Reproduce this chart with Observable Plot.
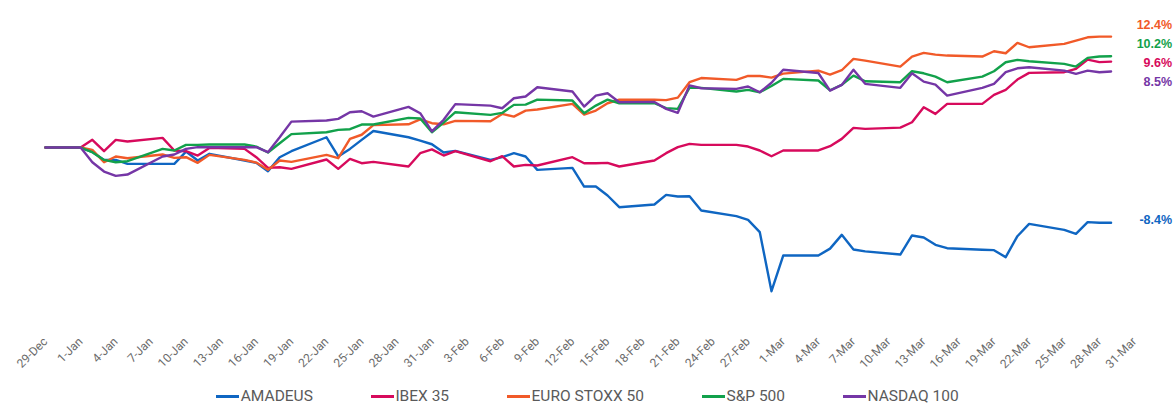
<!DOCTYPE html>
<html>
<head>
<meta charset="utf-8">
<script src="https://cdn.jsdelivr.net/npm/d3@7"></script>
<script src="https://cdn.jsdelivr.net/npm/@observablehq/plot@0.6"></script>
<style>
  html, body { margin: 0; padding: 0; background: #fff; }
  #chart svg { display: block; }
  #legend { display: flex; justify-content: center; align-items: center; gap: 58px; height: 22px;
    font-family: Roboto, "Liberation Sans", sans-serif; font-size: 15.5px; color: #5a5a5a; }
  #legend .item { display: flex; align-items: center; }
  #legend .sw { width: 23px; height: 3px; margin-right: 1.5px; }
</style>
</head>
<body>
<div id="chart"></div>
<div id="legend"></div>
<script>
// Trading days (weekdays), 29-Dec-2023 .. 29-Mar-2024
const dates = [
  "2023-12-29","2024-01-01","2024-01-02","2024-01-03","2024-01-04","2024-01-05",
  "2024-01-08","2024-01-09","2024-01-10","2024-01-11","2024-01-12",
  "2024-01-15","2024-01-16","2024-01-17","2024-01-18","2024-01-19",
  "2024-01-22","2024-01-23","2024-01-24","2024-01-25","2024-01-26",
  "2024-01-29","2024-01-30","2024-01-31","2024-02-01","2024-02-02",
  "2024-02-05","2024-02-06","2024-02-07","2024-02-08","2024-02-09",
  "2024-02-12","2024-02-13","2024-02-14","2024-02-15","2024-02-16",
  "2024-02-19","2024-02-20","2024-02-21","2024-02-22","2024-02-23",
  "2024-02-26","2024-02-27","2024-02-28","2024-02-29","2024-03-01",
  "2024-03-04","2024-03-05","2024-03-06","2024-03-07","2024-03-08",
  "2024-03-11","2024-03-12","2024-03-13","2024-03-14","2024-03-15",
  "2024-03-18","2024-03-19","2024-03-20","2024-03-21","2024-03-22",
  "2024-03-25","2024-03-26","2024-03-27","2024-03-28","2024-03-29"
];

// Cumulative performance, % since 29-Dec
const amadeus = [0,0,-0.5,-1.38,-1.38,-1.82,-1.82,-1.82,-0.45,-1.45,-0.7,-1.45,-1.71,-2.65,-1.08,-0.41,1.15,-1.0,-0.15,0.86,1.85,1.15,0.78,0.37,-0.56,-0.38,-1.38,-1.08,-0.63,-1.0,-2.5,-2.27,-4.36,-4.36,-5.36,-6.67,-6.37,-5.29,-5.47,-5.44,-7.04,-7.67,-8.08,-9.46,-16.06,-12.07,-12.07,-11.3,-9.76,-11.4,-11.6,-11.96,-9.83,-10.06,-10.87,-11.25,-11.43,-11.47,-12.25,-9.91,-8.53,-9.2,-9.65,-8.34,-8.4,-8.4];
const ibex35 = [0,0,0.86,-0.41,0.86,0.67,1.08,-0.33,-0.41,-0.89,-0.04,-0.15,-1.08,-2.27,-2.2,-2.38,-1.34,-2.38,-1.27,-1.75,-1.6,-2.12,-0.63,-0.2,-0.89,-0.4,-1.53,-0.97,-2.12,-1.94,-2.01,-1.08,-1.75,-1.75,-1.71,-2.12,-1.45,-0.63,0.04,0.41,0.3,0.3,0.11,-0.33,-0.97,-0.33,-0.33,0.15,0.97,2.2,2.09,2.23,2.83,4.5,3.76,4.88,4.88,5.89,6.45,7.6,8.35,8.42,8.79,9.83,9.55,9.6];
const euroStoxx50 = [0,0,-0.26,-1.64,-1.0,-1.19,-0.78,-1.15,-1.08,-1.71,-0.82,-1.38,-1.68,-2.49,-1.45,-1.6,-0.82,-1.19,0.97,1.43,2.5,2.6,3.15,2.72,2.6,2.98,2.94,3.76,3.46,4.13,4.25,4.88,3.69,4.13,4.95,5.36,5.35,5.3,5.58,7.3,7.77,7.56,8.0,8.0,7.82,8.26,8.6,8.16,8.64,9.91,9.72,9.05,10.17,10.58,10.39,10.28,10.17,10.76,10.54,11.7,11.21,11.59,11.96,12.32,12.4,12.4];
const sp500 = [0,0,-0.52,-1.38,-1.64,-1.53,-0.15,-0.33,0.3,0.3,0.34,0.34,0.11,-0.56,0.48,1.5,1.71,1.97,2.05,2.57,2.57,3.32,3.24,1.71,2.78,3.95,3.65,3.87,4.77,4.8,5.36,5.25,3.84,4.69,5.36,4.95,4.95,4.4,4.32,6.7,6.67,6.26,6.44,6.18,6.88,7.67,7.49,6.4,7.0,8.04,7.41,7.3,8.53,8.3,7.93,7.3,7.93,8.53,9.53,9.8,9.64,9.35,9.05,10.02,10.17,10.2];
const nasdaq100 = [0,0,-1.64,-2.68,-3.17,-3.02,-1.0,-0.78,-0.15,0.04,0.04,0.04,0.04,-0.52,1.15,2.9,3.02,3.2,3.95,4.06,3.46,4.55,3.84,1.8,3.1,4.85,4.69,4.39,5.51,5.7,6.74,6.26,4.58,5.81,6.07,5.06,5.1,4.32,3.88,6.95,6.63,6.56,6.82,6.18,7.24,8.7,8.33,6.37,7.0,8.7,7.12,6.67,8.3,7.37,7.04,5.81,6.67,7.12,8.42,8.86,8.97,8.6,8.23,8.6,8.42,8.5];

const seriesNames = ["AMADEUS", "IBEX 35", "EURO STOXX 50", "S&P 500", "NASDAQ 100"];
const seriesValues = [amadeus, ibex35, euroStoxx50, sp500, nasdaq100];
const seriesColors = ["#0f66c2", "#d70a5c", "#f15a29", "#12a14b", "#7536a6"];

const tickDates = [
  "2023-12-29","2024-01-01","2024-01-04","2024-01-07","2024-01-10","2024-01-13","2024-01-16",
  "2024-01-19","2024-01-22","2024-01-25","2024-01-28","2024-01-31","2024-02-03","2024-02-06",
  "2024-02-09","2024-02-12","2024-02-15","2024-02-18","2024-02-21","2024-02-24","2024-02-27",
  "2024-03-01","2024-03-04","2024-03-07","2024-03-10","2024-03-13","2024-03-16","2024-03-19",
  "2024-03-22","2024-03-25","2024-03-28","2024-03-31"
];

const parse = d3.utcParse("%Y-%m-%d");
const fmt = d3.utcFormat("%-d-%b");

const data = seriesNames.flatMap((name, i) =>
  seriesValues[i].map((v, j) => ({ date: parse(dates[j]), value: v, name })));

// End labels: last value of each series, spread vertically so they don't overlap
const lastDate = parse(dates[dates.length - 1]);
let ends = seriesNames.map((name, i) => {
  const v = seriesValues[i][seriesValues[i].length - 1];
  return { name, value: v, pos: v, label: v.toFixed(1) + "%", date: lastDate };
}).sort((a, b) => b.value - a.value);
const minGap = 2.12;
for (let iter = 0; iter < 50; iter++) {
  let moved = false;
  for (let k = 0; k < ends.length - 1; k++) {
    const a = ends[k], b = ends[k + 1];
    const gap = a.pos - b.pos;
    if (gap < minGap - 1e-6) {
      const d = (minGap - gap) / 2;
      a.pos += d; b.pos -= d; moved = true;
    }
  }
  if (!moved) break;
}

const chart = Plot.plot({
  width: 1175,
  height: 385,
  marginLeft: 45,
  marginRight: 41,
  marginTop: 20,
  marginBottom: 55,
  style: { fontFamily: "Roboto, 'Liberation Sans', sans-serif", background: "#fff" },
  x: { type: "utc", domain: [parse("2023-12-29"), parse("2024-03-31")] },
  y: { domain: [-20.45, 14.2], axis: null },
  color: { domain: seriesNames, range: seriesColors },
  marks: [
    Plot.lineY(data, { x: "date", y: "value", stroke: "name", strokeWidth: 2.4, curve: "linear" }),
    Plot.axisX({
      ticks: tickDates.map(parse),
      tickFormat: fmt,
      tickRotate: -45,
      tickSize: 0,
      tickPadding: 9,
      fontSize: 12,
      color: "#6b6b6b"
    }),
    Plot.text(ends, {
      x: "date", y: "pos", text: "label", fill: "name",
      dx: 61, dy: -3, textAnchor: "end",
      fontWeight: "bold", fontSize: 12.5,
      fontFamily: "'Liberation Sans', Arial, sans-serif"
    })
  ]
});
document.getElementById("chart").appendChild(chart);

const legend = document.getElementById("legend");
seriesNames.forEach((name, i) => {
  const item = document.createElement("div");
  item.className = "item";
  const sw = document.createElement("span");
  sw.className = "sw";
  sw.style.background = seriesColors[i];
  const t = document.createElement("span");
  t.textContent = name;
  item.appendChild(sw);
  item.appendChild(t);
  legend.appendChild(item);
});
</script>
</body>
</html>
